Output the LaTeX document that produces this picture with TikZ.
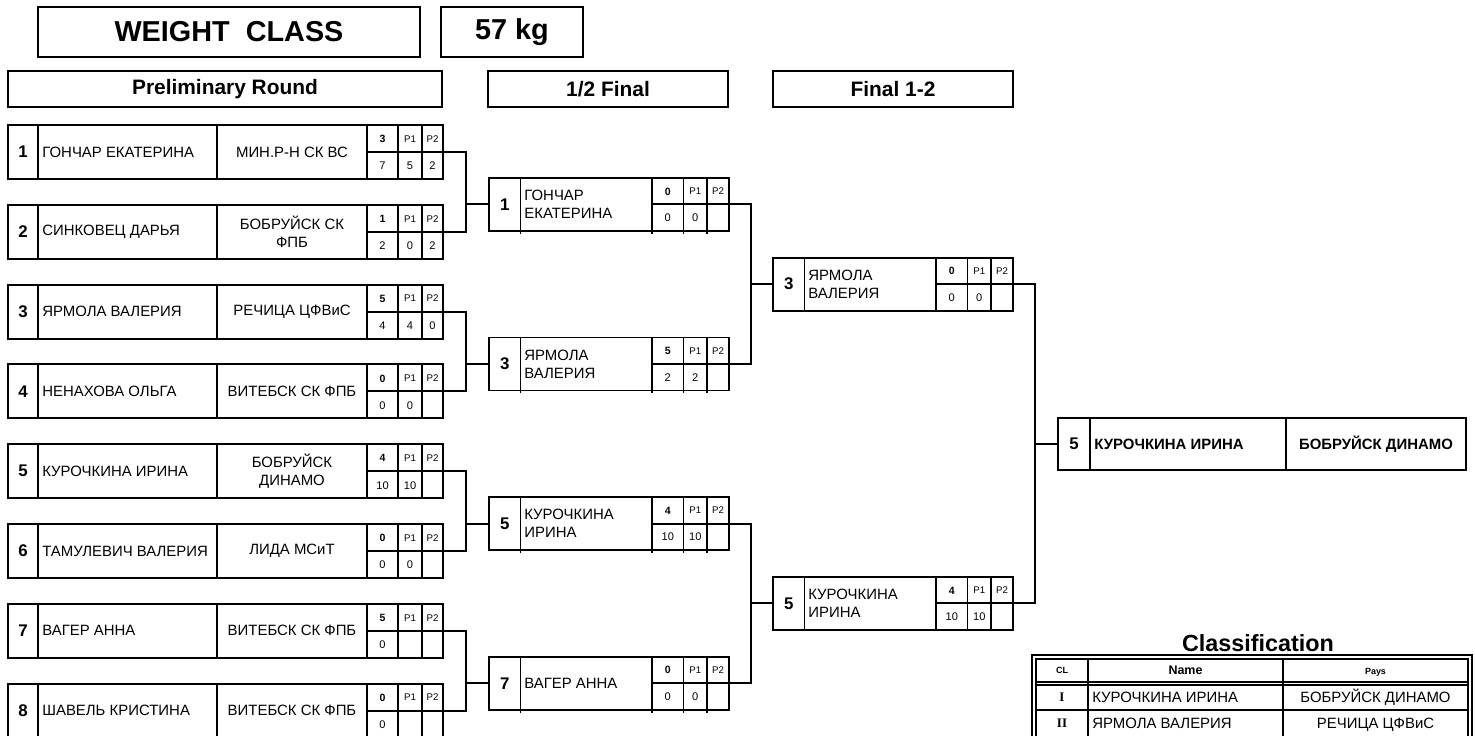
\documentclass[tikz,border=0pt]{standalone}
\usepackage{fontspec}
\setmainfont{Liberation Sans}
\newfontfamily\serifroman{Liberation Serif}
\newcommand\prelim[9]{%
  \node[bx, wh={435}{54}] (#1) at (225.5,#2+27) {};
  \draw[ln] (38,#2) -- (38,#2+54) (217,#2) -- (217,#2+54)
            (367,#2) -- (367,#2+54) (398,#2) -- (398,#2+54)
            (422,#2) -- (422,#2+54) (367,#2+27) -- (443,#2+27);
  \node[num] (#1-no) at (23,#2+27) {#3};
  \node[nm, anchor=west] (#1-nm) at (42,#2+27) {#4};
  \node[cl] (#1-cl) at (292,#2+27) {#5};
  \node[scb] (#1-sc) at (382.5,#2+14) {#6};
  \node[scp] (#1-p1) at (410,#2+14) {P1};
  \node[scp] (#1-p2) at (432.5,#2+14) {P2};
  \node[scv] (#1-v1) at (382.5,#2+41) {#7};
  \node[scv] (#1-v2) at (410,#2+41) {#8};
  \node[scv] (#1-v3) at (432.5,#2+41) {#9};
}
\newcommand\semibox[9]{%
  \node[bx, wh={240}{53}] (#1) at (#2+120,#3+26.5) {};
  \draw[ln] (#2+31.5,#3) -- (#2+31.5,#3+53) (#2+163,#3) -- (#2+163,#3+53)
            (#2+194.5,#3) -- (#2+194.5,#3+53) (#2+218,#3) -- (#2+218,#3+53)
            (#2+163,#3+26.5) -- (#2+240,#3+26.5);
  \node[num] (#1-no) at (#2+15.75,#3+26.5) {#4};
  \node[nm, anchor=west] (#1-nm) at (#2+35,#3+26.5) {#5};
  \node[scb] (#1-sc) at (#2+178.75,#3+13.5) {#6};
  \node[scp] (#1-p1) at (#2+206.25,#3+13.5) {P1};
  \node[scp] (#1-p2) at (#2+229,#3+13.5) {P2};
  \node[scv] (#1-v1) at (#2+178.75,#3+40) {#7};
  \node[scv] (#1-v2) at (#2+206.25,#3+40) {#8};
  \node[scv] (#1-v3) at (#2+229,#3+40) {#9};
}
\newcommand\ticks[2]{%
  \draw[ln] (#1+31.5,#2+53) -- ++(0,3) (#1+163,#2+53) -- ++(0,3)
            (#1+194.5,#2+53) -- ++(0,3) (#1+218,#2+53) -- ++(0,3);
}
\begin{document}
\begin{tikzpicture}[x=0.02cm,y=-0.02cm,
  ln/.style={line width=1.1pt},
  conn/.style={line width=1.1pt},
  wh/.style 2 args={minimum width=#1*0.02cm, minimum height=#2*0.02cm},
  bx/.style={draw, rectangle, line width=1.1pt, inner sep=0pt, outer sep=0pt},
  fix/.style={text height=6.1pt, text depth=0pt},
  num/.style={font=\fontsize{9.6}{10}\selectfont\bfseries, inner sep=0pt},
  nm/.style={font=\fontsize{8.5}{10.2}\selectfont, inner sep=0pt, align=left},
  cl/.style={font=\fontsize{8.5}{10.2}\selectfont, inner sep=0pt, align=center},
  scb/.style={font=\fontsize{6}{7}\selectfont\bfseries, inner sep=0pt},
  scp/.style={font=\fontsize{5.5}{6}\selectfont, inner sep=0pt},
  scv/.style={font=\fontsize{6.3}{7}\selectfont, inner sep=0pt},
  hd/.style={bx, font=\fontsize{11.9}{13}\selectfont\bfseries},
  big/.style={bx, font=\fontsize{16.4}{18}\selectfont\bfseries},
  wb/.style={font=\fontsize{8.5}{10}\selectfont\bfseries, inner sep=0pt, fix},
  tl/.style={line width=0.75pt},
  tt/.style={font=\fontsize{8.5}{10}\selectfont, inner sep=0pt, fix},
  th/.style={inner sep=0pt},
]
\useasboundingbox (0,0) rectangle (1475,736);
\fill[white] (0,0) rectangle (1475,736);

% headers
\node[big, wh={382}{50}] (wc) at (229,32) {WEIGHT~~CLASS};
\node[big, wh={142}{50}] (kg) at (512,32) {57 kg};
\node[hd, wh={434}{36}] (hpr) at (225,89) {Preliminary Round};
\node[hd, wh={240}{36}] (hsf) at (608,89) {1/2 Final};
\node[hd, wh={240}{36}] (hfi) at (893,89) {Final 1-2};

% preliminary round
\prelim{p1}{125}{1}{ГОНЧАР ЕКАТЕРИНА}{МИН.Р-Н СК ВС}{3}{7}{5}{2}
\prelim{p2}{204.8}{2}{СИНКОВЕЦ ДАРЬЯ}{БОБРУЙСК СК\\ФПБ}{1}{2}{0}{2}
\prelim{p3}{284.6}{3}{ЯРМОЛА ВАЛЕРИЯ}{РЕЧИЦА ЦФВиС}{5}{4}{4}{0}
\prelim{p4}{364.4}{4}{НЕНАХОВА ОЛЬГА}{ВИТЕБСК СК ФПБ}{0}{0}{0}{}
\prelim{p5}{444.2}{5}{КУРОЧКИНА ИРИНА}{БОБРУЙСК\\ДИНАМО}{4}{10}{10}{}
\prelim{p6}{524}{6}{ТАМУЛЕВИЧ ВАЛЕРИЯ}{ЛИДА МСиТ}{0}{0}{0}{}
\prelim{p7}{603.8}{7}{ВАГЕР АННА}{ВИТЕБСК СК ФПБ}{5}{0}{}{}
\prelim{p8}{683.6}{8}{ШАВЕЛЬ КРИСТИНА}{ВИТЕБСК СК ФПБ}{0}{0}{}{}

% semi-finals
\semibox{s1}{489}{177.9}{1}{ГОНЧАР\\ЕКАТЕРИНА}{0}{0}{0}{}
\semibox{s3}{489}{337.5}{3}{ЯРМОЛА\\ВАЛЕРИЯ}{5}{2}{2}{}
\semibox{s5}{489}{497.1}{5}{КУРОЧКИНА\\ИРИНА}{4}{10}{10}{}
\semibox{s7}{489}{656.7}{7}{ВАГЕР АННА}{0}{0}{0}{}
\ticks{489}{177.9}\ticks{489}{337.5}\ticks{489}{497.1}\ticks{489}{656.7}

% finals
\semibox{f3}{773}{257.7}{3}{ЯРМОЛА\\ВАЛЕРИЯ}{0}{0}{0}{}
\semibox{f5}{773}{576.9}{5}{КУРОЧКИНА\\ИРИНА}{4}{10}{10}{}

% winner
\node[bx, wh={408}{52}] (w) at (1262,443.8) {};
\draw[ln] (1090,417.8) -- (1090,469.8) (1286,417.8) -- (1286,469.8);
\node[num] (w-no) at (1074,443.8) {5};
\node[wb, anchor=west] (w-nm) at (1094,443.8) {КУРОЧКИНА ИРИНА};
\node[wb] (w-cl) at (1376,443.8) {БОБРУЙСК ДИНАМО};

% connectors
\coordinate (j1) at (466,204.4);
\coordinate (j2) at (466,364);
\coordinate (j3) at (466,523.6);
\coordinate (j4) at (466,683.2);
\draw[conn] (p1.east) -| (j1); \draw[conn] (p2.east) -| (j1); \draw[conn] (j1) -- (s1.west);
\draw[conn] (p3.east) -| (j2); \draw[conn] (p4.east) -| (j2); \draw[conn] (j2) -- (s3.west);
\draw[conn] (p5.east) -| (j3); \draw[conn] (p6.east) -| (j3); \draw[conn] (j3) -- (s5.west);
\draw[conn] (p7.east) -| (j4); \draw[conn] (p8.east) -| (j4); \draw[conn] (j4) -- (s7.west);
\coordinate (k1) at (751,284.2);
\coordinate (k2) at (751,603.4);
\draw[conn] (s1.east) -| (k1); \draw[conn] (s3.east) -| (k1); \draw[conn] (k1) -- (f3.west);
\draw[conn] (s5.east) -| (k2); \draw[conn] (s7.east) -| (k2); \draw[conn] (k2) -- (f5.west);
\coordinate (l1) at (1035,443.8);
\draw[conn] (f3.east) -| (l1); \draw[conn] (f5.east) -| (l1); \draw[conn] (l1) -- (w.west);

% classification
\node[font=\fontsize{13.3}{14}\selectfont\bfseries, inner sep=0pt] (ctitle) at (1258,643) {Classification};
\draw[tl] (1032,745) -- (1032,655) -- (1472,655) -- (1472,745);
\draw[tl] (1036,745) -- (1036,659) -- (1468,659) -- (1468,745);
\draw[tl] (1036,682) -- (1468,682) (1036,685) -- (1468,685) (1036,710) -- (1468,710);
\draw[tl] (1088,659) -- (1088,745) (1283,659) -- (1283,745);
\node[th, font=\fontsize{5.1}{6}\selectfont\bfseries] (h-cl) at (1062,670.5) {CL};
\node[th, font=\fontsize{7.1}{8}\selectfont\bfseries] (h-nm) at (1185.5,670.5) {Name};
\node[th, font=\fontsize{5.1}{6}\selectfont\bfseries] (h-py) at (1375.5,672) {Pays};
\node[th, font=\fontsize{7.4}{8}\serifroman\bfseries] (r1-cl) at (1062,697.5) {I};
\node[tt, anchor=west] (r1-nm) at (1092,697.5) {КУРОЧКИНА ИРИНА};
\node[tt] (r1-py) at (1375.5,697.5) {БОБРУЙСК ДИНАМО};
\node[th, font=\fontsize{7.4}{8}\serifroman\bfseries] (r2-cl) at (1062,723) {II};
\node[tt, anchor=west] (r2-nm) at (1092,723) {ЯРМОЛА ВАЛЕРИЯ};
\node[tt] (r2-py) at (1375.5,723) {РЕЧИЦА ЦФВиС};
\end{tikzpicture}
\end{document}
